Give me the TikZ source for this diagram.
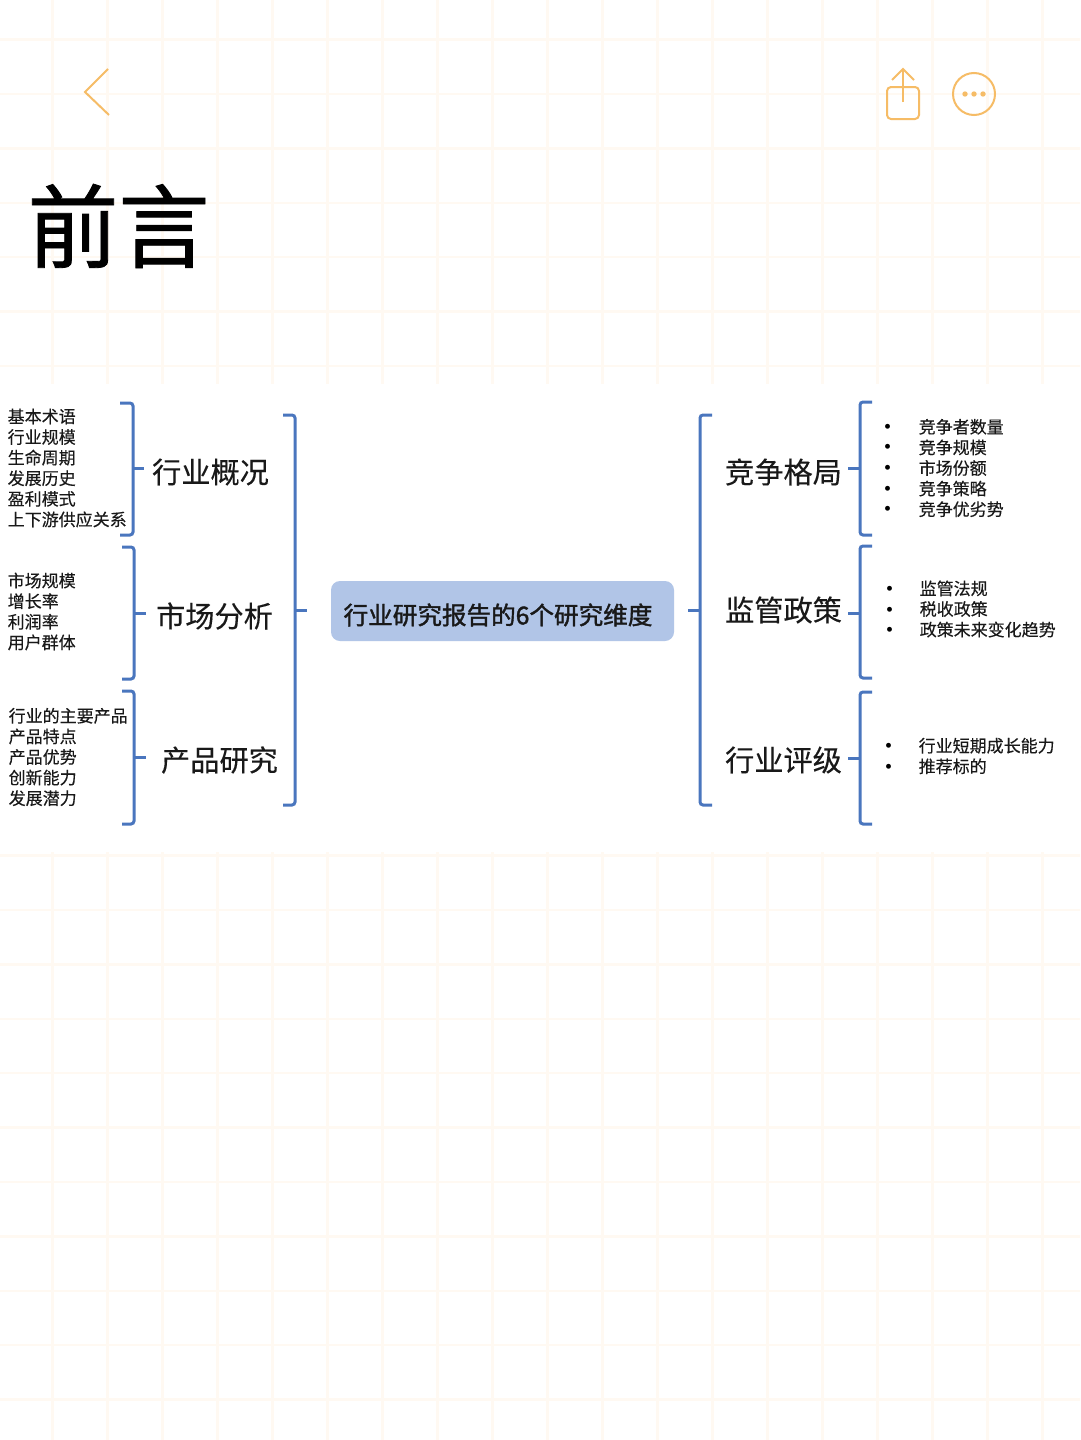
\documentclass[tikz,border=0pt]{standalone}
\usepackage{fontspec}
\setmainfont{Noto Sans CJK SC}
\newfontfamily\headfont[FakeBold=0.9]{Noto Sans CJK SC}
\newfontfamily\captionfont[FakeBold=1.5]{Noto Sans CJK SC}
\newfontfamily\itemfont[FakeBold=0.25]{Noto Sans CJK SC}
\definecolor{gridtint}{HTML}{FFF9F2}
\definecolor{icontint}{HTML}{F6BC66}
\definecolor{bracetint}{HTML}{4A76BE}
\definecolor{boxtint}{HTML}{B1C5E7}
\tikzset{
    gridline/.style={draw=gridtint,line width=2.4pt},
    iconline/.style={draw=icontint,line width=2pt},
    braceline/.style={draw=bracetint,line width=3pt,rounded corners=3pt},
    stubline/.style={draw=bracetint,line width=3pt},
    topic/.style={inner sep=0pt,font=\itemfont\fontsize{29.2}{32}\selectfont,text=black!90},
    items/.style={inner sep=0pt,anchor=west,align=left,text=black!90,
        font=\itemfont\fontsize{17}{20.6}\selectfont},
    dots/.style={inner sep=0pt,anchor=center,align=center,text=black,
        font=\fontsize{23}{20.6}\selectfont}
}
\begin{document}
\begin{tikzpicture}[x=1pt,y=-1pt]
    \useasboundingbox (0,0) rectangle (1080,1440);
    \fill[white] (0,0) rectangle (1080,1440);
    % paper
    \begin{scope}[shift={(52.5,39.5)}]
        \clip (-52.5,-39.5) rectangle (1027.5,1400.5);
        \draw[gridline,xstep=55pt,ystep=54.4pt] (-110,-108.8) grid (1100,1414.4);
    \end{scope}
    \fill[white] (0,384) rectangle (1080,852);
    % top icons
    \draw[iconline] (108,69) -- (85,92) -- (109,115);
    \draw[iconline,rounded corners=4pt] (887,87) rectangle (919,119);
    \draw[iconline] (903,102) -- (903,69);
    \draw[iconline] (892,80) -- (903,69) -- (914,80);
    \draw[iconline] (974,94) circle (21);
    \fill[icontint] (965,94) circle (2.7);
    \fill[icontint] (974,94) circle (2.7);
    \fill[icontint] (983,94) circle (2.7);
    \node[inner sep=0pt,font=\headfont\fontsize{91}{91}\selectfont] (heading) at (118.5,226) {前言};
    % centre
    \node[fill=boxtint,rounded corners=9pt,minimum width=343pt,minimum height=60pt,inner sep=0pt] (reportbox) at (502.5,611) {};
    \node[inner sep=0pt,font=\captionfont\fontsize{24.6}{28}\selectfont,text=black!90] (report) at (498,615)
        {行业研究报告的6个研究维度};
    % left side
    \node[topic] (overview) at (210.5,472) {行业概况};
    \node[topic] (market) at (214.5,616) {市场分析};
    \node[topic] (product) at (219.5,760) {产品研究};
    \node[items] (overviewitems) at (7.5,468) {基本术语\\行业规模\\生命周期\\发展历史\\盈利模式\\上下游供应关系};
    \node[items] (marketitems) at (7.5,611.5) {市场规模\\增长率\\利润率\\用户群体};
    \node[items] (productitems) at (8.5,757) {行业的主要产品\\产品特点\\产品优势\\创新能力\\发展潜力};
    \coordinate (overviewfork) at (133,468);
    \coordinate (overviewtip) at (144,468);
    \coordinate (marketfork) at (134,613);
    \coordinate (markettip) at (146,613);
    \coordinate (productfork) at (134,757);
    \coordinate (producttip) at (146,757);
    \coordinate (leftfork) at (295,610);
    \coordinate (lefttip) at (307,610);
    \draw[braceline] (120,403) -- (133,403) -- (133,535) -- (120,535);
    \draw[braceline] (122,547) -- (134,547) -- (134,679) -- (122,679);
    \draw[braceline] (122,691) -- (134,691) -- (134,824) -- (122,824);
    \draw[braceline] (283,415) -- (295,415) -- (295,805) -- (283,805);
    \draw[stubline] (overviewfork) -- (overviewtip);
    \draw[stubline] (marketfork) -- (markettip);
    \draw[stubline] (productfork) -- (producttip);
    \draw[stubline] (leftfork) -- (lefttip);
    % right side
    \node[topic] (rivalry) at (783.5,472) {竞争格局};
    \node[topic] (policy) at (783.5,610) {监管政策};
    \node[topic] (rating) at (783.5,760) {行业评级};
    \node[items] (rivalryitems) at (918.5,468) {竞争者数量\\竞争规模\\市场份额\\竞争策略\\竞争优劣势};
    \node[items] (policyitems) at (919.5,609) {监管法规\\税收政策\\政策未来变化趋势};
    \node[items] (ratingitems) at (918.5,756) {行业短期成长能力\\推荐标的};
    \node[dots] (rivalrydots) at (888,471) {•\\•\\•\\•\\•};
    \node[dots] (policydots) at (890,612.5) {•\\•\\•};
    \node[dots] (ratingdots) at (889,759.5) {•\\•};
    \coordinate (rivalryfork) at (860,468);
    \coordinate (rivalrytip) at (848,468);
    \coordinate (policyfork) at (860,613);
    \coordinate (policytip) at (848,613);
    \coordinate (ratingfork) at (860,758);
    \coordinate (ratingtip) at (848,758);
    \coordinate (rightfork) at (700,610);
    \coordinate (righttip) at (688,610);
    \draw[braceline] (872,402) -- (860,402) -- (860,535) -- (872,535);
    \draw[braceline] (872,546) -- (860,546) -- (860,678) -- (872,678);
    \draw[braceline] (872,692) -- (860,692) -- (860,824) -- (872,824);
    \draw[braceline] (712,415) -- (700,415) -- (700,805) -- (712,805);
    \draw[stubline] (rivalryfork) -- (rivalrytip);
    \draw[stubline] (policyfork) -- (policytip);
    \draw[stubline] (ratingfork) -- (ratingtip);
    \draw[stubline] (rightfork) -- (righttip);
\end{tikzpicture}
\end{document}
